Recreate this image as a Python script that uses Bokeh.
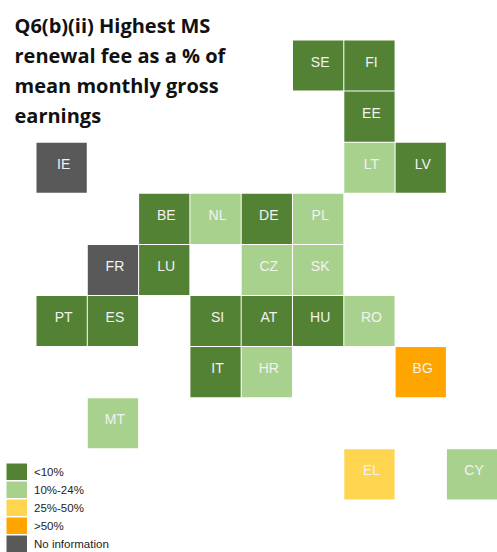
from bokeh.plotting import figure
from bokeh.models import Range1d, Label, Legend, LegendItem, ColumnDataSource
from bokeh.core.properties import value
from bokeh.embed import file_html
from bokeh.resources import INLINE

categories = ["<10%", "10%-24%", "25%-50%", ">50%", "No information"]
colors = ["#548235", "#A9D18E", "#FFD54F", "#FFA500", "#595959"]
countries = ["SE","FI","EE","IE","LT","LV","BE","NL","DE","PL","FR","LU","CZ","SK",
             "PT","ES","SI","AT","HU","RO","IT","HR","BG","MT","EL","CY"]
cols = [5,6,6,0,6,7,2,3,4,5,1,2,4,5,0,1,3,4,5,6,3,4,7,1,6,8]
rows = [0,0,1,2,2,2,3,3,3,3,4,4,4,4,5,5,5,5,5,5,6,6,6,7,8,8]
band = [0,0,0,4,1,0,0,1,0,1,4,0,1,1,0,0,0,0,0,1,0,1,3,1,2,1]
title_lines = ["Q6(b)(ii) Highest MS", "renewal fee as a % of", "mean monthly gross", "earnings"]

W, H = 497, 552
X0, Y0, PX, PY = 36.0, 40.0, 51.3, 51.1
NAN = float("nan")

p = figure(width=W, height=H, output_backend="svg", toolbar_location=None,
           x_range=Range1d(-X0 / PX, (W - X0) / PX),
           y_range=Range1d((H - Y0) / PY, -Y0 / PY),
           min_border=0, outline_line_color=None, background_fill_color="white")
p.axis.visible = False
p.grid.visible = False

items = []
for i, (cat, col) in enumerate(zip(categories, colors)):
    idx = [k for k, b in enumerate(band) if b == i]
    src = ColumnDataSource(dict(
        left=[cols[k] for k in idx], right=[cols[k] + 0.98 for k in idx],
        top=[rows[k] for k in idx], bottom=[rows[k] + 0.98 for k in idx]))
    p.quad(left="left", right="right", top="top", bottom="bottom", source=src,
           fill_color=col, line_color=None)
    # undrawn thick line: its legend key is a solid swatch without the inset of an area glyph
    key = p.line(x=[NAN, NAN], y=[NAN, NAN], line_color=col, line_width=17, line_cap="butt")
    items.append(LegendItem(label=value(cat), renderers=[key]))

lab = ColumnDataSource(dict(x=[c + 0.49 for c in cols], y=[r + 0.49 for r in rows], t=countries))
p.text(x="x", y="y", text="t", source=lab, text_color="#F2F2F2",
       text_font=value("Liberation Sans"), text_font_size="14px",
       text_align="center", text_baseline="middle", x_offset=2, y_offset=-4)

legend = Legend(items=items, location=(6, 0), border_line_color=None,
                background_fill_alpha=0, padding=0, margin=0, spacing=1,
                glyph_width=21, glyph_height=17, label_height=17,
                label_standoff=7, label_text_font="Liberation Sans",
                label_text_font_size="11.5px", label_text_color="#222222")
p.add_layout(legend, "center")

for i, t in enumerate(title_lines):
    p.add_layout(Label(x=14, y=H - 38 - i * 30, x_units="screen", y_units="screen", text=t,
                       text_font="Open Sans", text_font_style="bold",
                       text_font_size="20px", text_color="#111111"))

open("out.html", "w").write(file_html(p, INLINE))
